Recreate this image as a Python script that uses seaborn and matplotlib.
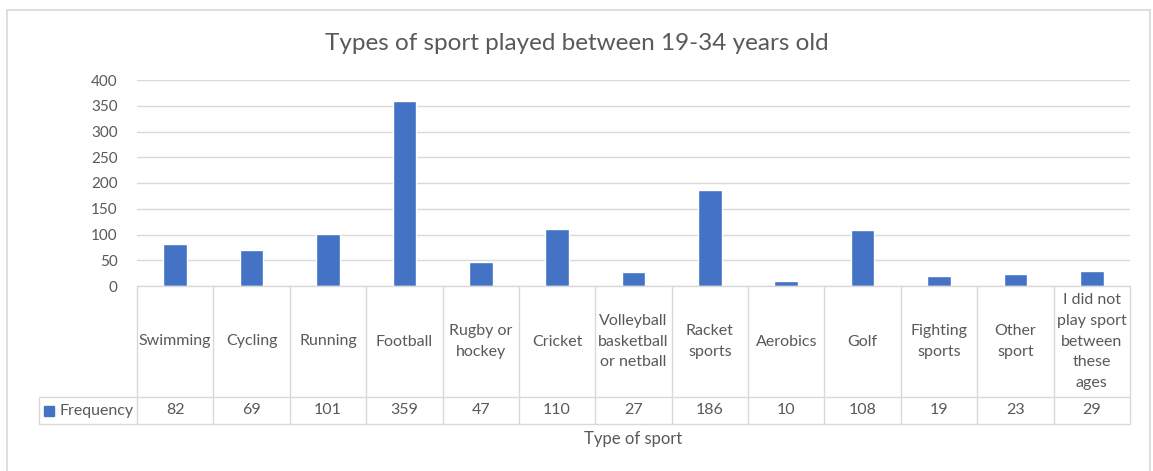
import numpy as np
import matplotlib.pyplot as plt
import pandas as pd
import seaborn as sns
from matplotlib.lines import Line2D

# data
sports = ['Swimming', 'Cycling', 'Running', 'Football', 'Rugby or\nhockey', 'Cricket',
          'Volleyball\nbasketball\nor netball', 'Racket\nsports', 'Aerobics', 'Golf',
          'Fighting\nsports', 'Other\nsport', 'I did not\nplay sport\nbetween\nthese\nages']
frequency = [82, 69, 101, 359, 47, 110, 27, 186, 10, 108, 19, 23, 29]
yticks = [0, 50, 100, 150, 200, 250, 300, 350, 400]

df = pd.DataFrame({'sport': sports, 'Frequency': frequency})

sns.set_style('white')
plt.rcParams['font.family'] = ['Lato', 'DejaVu Sans']

W, H = 1153, 471
fig = plt.figure(figsize=(W / 100, H / 100), dpi=100)
ax = fig.add_axes([137 / W, 1 - 286 / H, (1130 - 137) / W, (286 - 80) / H])

bar_col = '#4472C4'
txt_col = '#595959'
line_col = '#d9d9d9'

sns.barplot(data=df, x='sport', y='Frequency', color=bar_col, width=0.31,
            saturation=1, ax=ax)

ax.set_xlim(-0.5, len(sports) - 0.5)
ax.set_ylim(0, 400)
ax.set_yticks(yticks)
ax.tick_params(axis='y', length=0, labelsize=11, labelcolor=txt_col, pad=14)
ax.set_xticks([])
ax.set_xlabel('')
ax.set_ylabel('')
ax.grid(axis='y', color=line_col, linewidth=1)
ax.set_axisbelow(True)
for s in ax.spines.values():
    s.set_visible(False)

# data table under the chart
tr = ax.get_xaxis_transform()
row1 = -111 / 206
row2 = -138 / 206
cat_w = (1130 - 137) / len(sports)
left_x = -0.5 - (137 - 39) / cat_w
n = len(sports)
kw = dict(color=line_col, lw=1, transform=tr, clip_on=False)
ax.plot([-0.5, n - 0.5], [0, 0], **kw)
ax.plot([left_x, n - 0.5], [row1, row1], **kw)
ax.plot([left_x, n - 0.5], [row2, row2], **kw)
ax.plot([left_x, left_x], [row1, row2], **kw)
for i in range(n + 1):
    ax.plot([i - 0.5, i - 0.5], [0, row2], **kw)

for i, (s, v) in enumerate(zip(sports, frequency)):
    ax.text(i, row1 / 2, s, ha='center', va='center', fontsize=11.5, color=txt_col,
            transform=tr, linespacing=1.6)
    ax.text(i, (row1 + row2) / 2, str(v), ha='center', va='center', fontsize=11.5,
            color=txt_col, transform=tr)

# legend key in the table
ax.plot([-0.5 - (137 - 49.5) / cat_w], [(row1 + row2) / 2], marker='s', ms=7,
        color=bar_col, transform=tr, clip_on=False, lw=0)
ax.text(-0.5 - (137 - 60) / cat_w, (row1 + row2) / 2, 'Frequency', ha='left',
        va='center', fontsize=11.5, color=txt_col, transform=tr)

ax.text(0.5, (286 - 439) / 206, 'Type of sport', ha='center', va='center',
        fontsize=12, color=txt_col, transform=ax.transAxes)

fig.text(0.5, 1 - 44 / H, 'Types of sport played between 19-34 years old',
         ha='center', va='center', fontsize=17.5, color=txt_col)

# chart border
for xs, ys in [([7 / W, 7 / W], [0, 1 - 10 / H]),
               ([7 / W, 1150 / W], [1 - 10 / H, 1 - 10 / H]),
               ([1150 / W, 1150 / W], [0, 1 - 10 / H])]:
    fig.add_artist(Line2D(xs, ys, color=line_col, lw=1.2))

fig.savefig('out.png', dpi=100, facecolor='white')
